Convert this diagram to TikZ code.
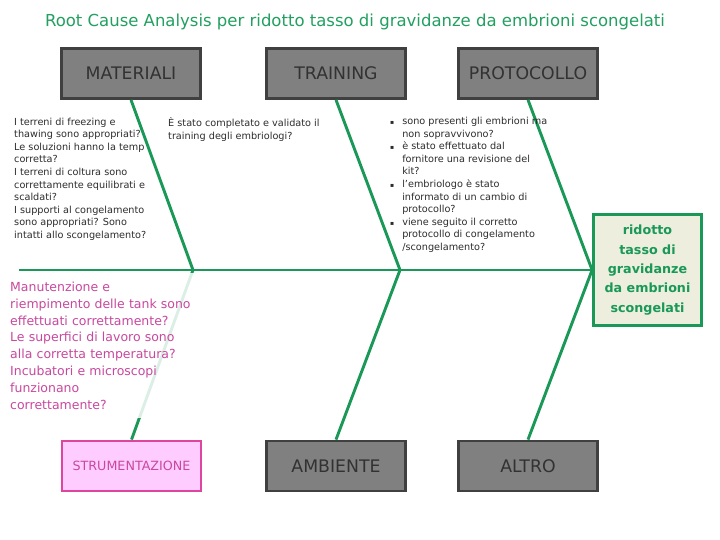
\documentclass[tikz,border=0pt]{standalone}
\usepackage{fontspec}
\setmainfont{DejaVu Sans}
\definecolor{fishgreen}{RGB}{26,152,88}
\definecolor{titlegreen}{RGB}{34,160,96}
\definecolor{boxgray}{RGB}{128,128,128}
\definecolor{boxedge}{RGB}{64,64,64}
\definecolor{labelgray}{RGB}{50,50,50}
\definecolor{effbg}{RGB}{237,238,222}
\definecolor{pinkfill}{RGB}{255,204,255}
\definecolor{pinkedge}{RGB}{222,70,158}
\definecolor{pinktxt}{RGB}{200,72,158}
\definecolor{smallgray}{RGB}{45,45,45}
\begin{document}
\begin{tikzpicture}[x=1pt,y=-1pt,
  bone/.style={draw=fishgreen,line width=2.9pt},
  catbox/.style={draw=boxedge,fill=boxgray,line width=2.8pt,minimum width=139pt,minimum height=50pt,inner sep=0pt,text=labelgray,font=\fontsize{17.3}{20}\selectfont},
  strubox/.style={draw=pinkedge,fill=pinkfill,line width=2.8pt,minimum width=139pt,minimum height=50pt,inner sep=0pt,text=pinktxt,font=\fontsize{12.7}{15}\selectfont},
  effect/.style={draw=fishgreen,fill=effbg,line width=2.8pt,minimum width=108pt,minimum height=111pt,inner sep=0pt,text=fishgreen,align=center,font=\bfseries\fontsize{12.7}{19.3}\selectfont},
  titletext/.style={text=titlegreen,font=\fontsize{16.5}{19}\selectfont,inner sep=0pt},
  smalltext/.style={text=smallgray,font=\fontsize{9.7}{12.6}\selectfont,inner sep=0pt,align=left},
  pinktext/.style={text=pinktxt,font=\fontsize{12.5}{16.9}\selectfont,align=left,text width=186pt,inner sep=2pt,minimum height=145pt,fill=white,fill opacity=0.85,text opacity=1}
]
\useasboundingbox (0,0) rectangle (720,540);
\fill[white] (0,0) rectangle (720,540);

\node[titletext] (title) at (355,22) {Root Cause Analysis per ridotto tasso di gravidanze da embrioni scongelati};

\node[catbox] (mat) at (131,73.5) {MATERIALI};
\node[catbox] (tra) at (336,73.5) {TRAINING};
\node[catbox] (pro) at (528,73.5) {PROTOCOLLO};
\node[strubox] (str) at (131.5,466) {STRUMENTAZIONE};
\node[catbox] (amb) at (336,466) {AMBIENTE};
\node[catbox] (alt) at (528,466) {ALTRO};
\node[effect] (eff) at (647.5,270) {ridotto\\tasso di\\gravidanze\\da embrioni\\scongelati};

\coordinate (s0) at (19,270);
\coordinate (j1) at (193,270);
\coordinate (j2) at (400,270);

\draw[bone] (s0) -- (eff.west);
\draw[bone] (mat.south) -- (j1) -- (str.north);
\draw[bone] (tra.south) -- (j2) -- (amb.north);
\draw[bone] (pro.south) -- (eff.west) -- (alt.north);

\node[smalltext,anchor=north west] (tmat) at (14,117.5) {I terreni di freezing e\\thawing sono appropriati?\\Le soluzioni hanno la temp\\corretta?\\I terreni di coltura sono\\correttamente equilibrati e\\scaldati?\\I supporti al congelamento\\sono appropriati? Sono\\intatti allo scongelamento?};

\node[smalltext,anchor=north west] (ttra) at (168,117.5) {È stato completato e validato il\\training degli embriologi?};

\node[smalltext,anchor=north west] (tpro) at (390,115.5) {\def\arraystretch{1}\begin{tabular}{@{}l@{\hspace{8pt}}l@{}}
{\fontsize{6}{6}\selectfont ▪} & sono presenti gli embrioni ma\\
 & non sopravvivono?\\
{\fontsize{6}{6}\selectfont ▪} & è stato effettuato dal\\
 & fornitore una revisione del\\
 & kit?\\
{\fontsize{6}{6}\selectfont ▪} & l'embriologo è stato\\
 & informato di un cambio di\\
 & protocollo?\\
{\fontsize{6}{6}\selectfont ▪} & viene seguito il corretto\\
 & protocollo di congelamento\\
 & /scongelamento?
\end{tabular}};

\node[pinktext,anchor=north west] (tstr) at (8,273) {Manutenzione e\\riempimento delle tank sono\\effettuati correttamente?\\Le superfici di lavoro sono\\alla corretta temperatura?\\Incubatori e microscopi\\funzionano\\correttamente?};
\end{tikzpicture}
\end{document}
